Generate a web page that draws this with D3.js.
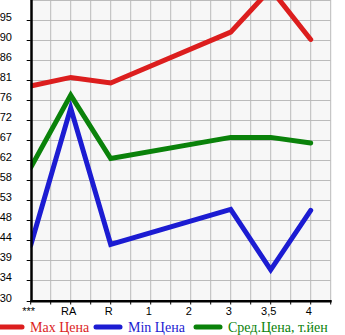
<!DOCTYPE html>
<html><head><meta charset="utf-8">
<script src="https://cdn.jsdelivr.net/npm/d3@7"></script>
<style>body{margin:0;background:#fff}svg{display:block}</style>
</head><body>
<svg id="c" width="345" height="335"></svg>
<script>
const categories = ["***","RA","R","1","2","3","3,5","4"];
const maxPrice = [79.7, 81.7, 80.4, null, null, 92.2, 102.2, 90.5];
const minPrice = [42.8, 74.6, 43.0, null, null, 51.1, 37.1, 50.9];
const avgPrice = [60.8, 77.6, 62.9, null, null, 67.8, 67.8, 66.5];
const yTickLabels = ["30","34","39","44","48","53","58","62","67","72","76","81","86","90","95"];
const seriesNames = ["Max Цена","Min Цена","Сред.Цена, т.йен"];
const seriesColors = ["#dc1e1e","#1c1cd2","#0a820a"];

const svg = d3.select("#c");
const L = 30.7, R = 330.7, T = 0, B = 300.5;
const x = d3.scalePoint().domain(categories).range([L, L + 280]);
const yMin = 30, yStep = 65/14;
const y = d3.scaleLinear().domain([yMin, yMin + yStep*15]).range([B, T]);

svg.append("rect").attr("x", L).attr("y", T).attr("width", R - L).attr("height", B - T).attr("fill", "#f7f7f7");
const g = svg.append("g");
const yGrid = d3.range(1, 16).map(i => yMin + yStep*i);
g.selectAll("line.hg").data(yGrid).join("line")
  .attr("x1", L).attr("x2", R).attr("y1", d => Math.round(y(d))+0.5).attr("y2", d => Math.round(y(d))+0.5)
  .attr("stroke", "#bbb").attr("stroke-width", 1);
const xGrid = d3.range(1, 16).map(i => L + 20*i);
g.selectAll("line.vg").data(xGrid).join("line")
  .attr("x1", d => d).attr("x2", d => d).attr("y1", T).attr("y2", B)
  .attr("stroke", "#bbb").attr("stroke-width", 1);

svg.append("clipPath").attr("id","cp").append("rect").attr("x", L).attr("y", T).attr("width", R-L+5).attr("height", B-T);
const series = [maxPrice, minPrice, avgPrice];
const line = d3.line().x(d => x(d[0])).y(d => y(d[1]));
series.forEach((s, i) => {
  const pts = categories.map((c, j) => [c, s[j]]).filter(d => d[1] != null);
  svg.append("path").attr("d", line(pts)).attr("fill", "none")
    .attr("stroke", seriesColors[i]).attr("stroke-width", 5)
    .attr("stroke-linecap", "round").attr("stroke-linejoin", "miter")
    .attr("clip-path", "url(#cp)");
});

const yTickVals = yTickLabels.map((t, i) => yMin + yStep*i);
const yLab = svg.append("g");
yTickVals.forEach((v, i) => {
  const yy = Math.round(y(v)) + 0.5;
  yLab.append("line").attr("x1", L - 4).attr("x2", L).attr("y1", yy).attr("y2", yy).attr("stroke", "#000");
  yLab.append("text").attr("x", 12).attr("y", yy).attr("text-anchor", "end").text(yTickLabels[i])
    .attr("font-family", "Liberation Sans, Arial, sans-serif").attr("font-size", 11).attr("fill", "#000");
});

const xTicks = d3.range(0, 16).map(i => L + 20*i);
svg.append("g").selectAll("line").data(xTicks).join("line")
  .attr("x1", d => d).attr("x2", d => d).attr("y1", B).attr("y2", B + 4).attr("stroke", "#000");
const xAxis = d3.axisBottom(x).tickSize(0).tickPadding(0);
const xa = svg.append("g").attr("transform", `translate(0,${B})`).call(xAxis);
xa.select(".domain").remove();
xa.selectAll(".tick text").attr("y", 14).attr("dy", "0").attr("x", -2.5)
  .attr("font-family", "Liberation Sans, Arial, sans-serif").attr("font-size", 11).attr("fill", "#000");

svg.append("line").attr("x1", L+0.8).attr("x2", L+0.8).attr("y1", T).attr("y2", B+1.5).attr("stroke", "#000").attr("stroke-width", 2.5);
svg.append("line").attr("x1", L).attr("x2", R+1).attr("y1", B+0.8).attr("y2", B+0.8).attr("stroke", "#000").attr("stroke-width", 2.5);

const legX = [0, 98, 198];
const leg = svg.append("g");
seriesNames.forEach((n, i) => {
  leg.append("line").attr("x1", legX[i] - 2).attr("x2", legX[i] + 22).attr("y1", 327).attr("y2", 327)
    .attr("stroke", seriesColors[i]).attr("stroke-width", 5).attr("stroke-linecap", "round");
  leg.append("text").attr("x", legX[i] + 30).attr("y", 332).text(n)
    .attr("font-family", "Liberation Serif, Times New Roman, serif").attr("font-size", 14).attr("fill", seriesColors[i]);
});
</script>
</body></html>
